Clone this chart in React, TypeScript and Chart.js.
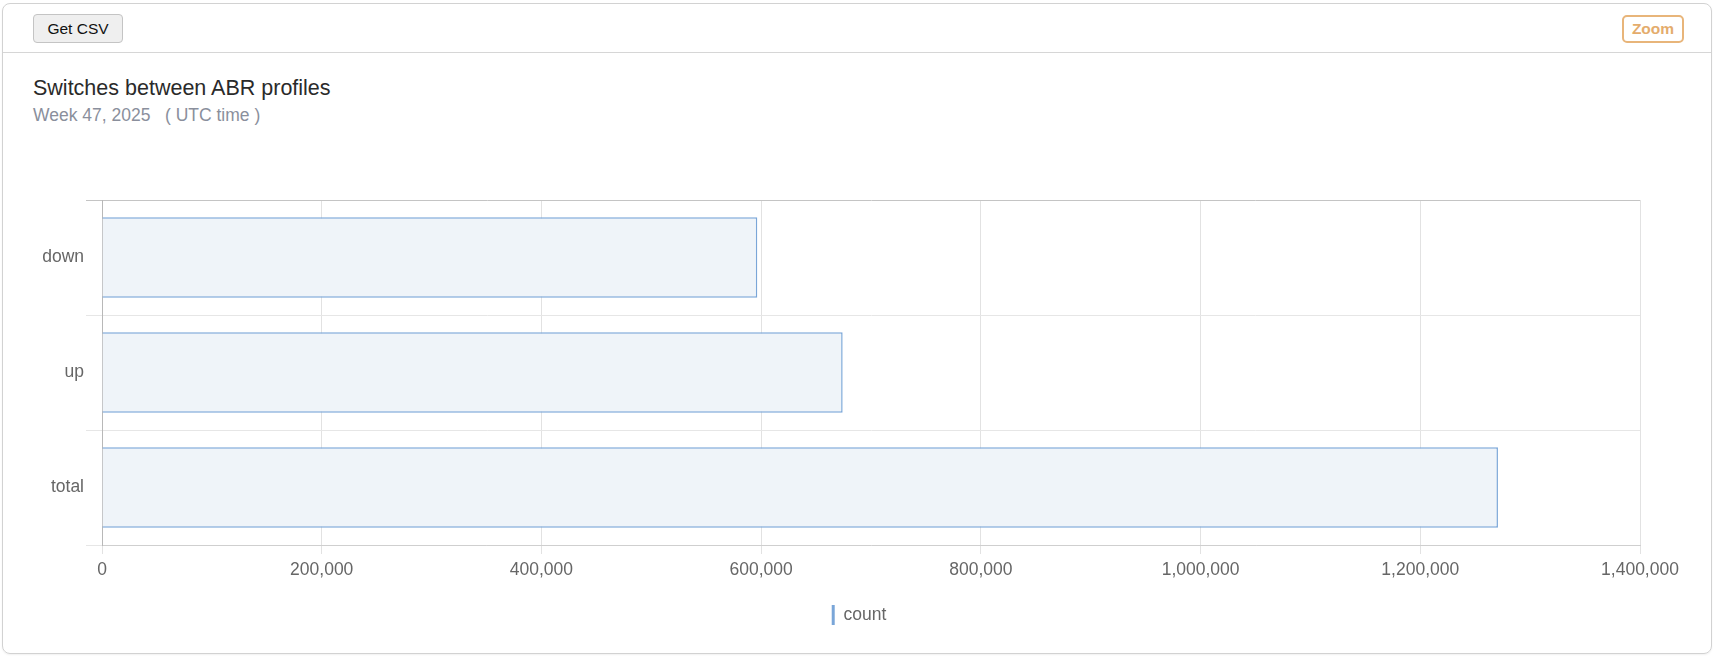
import React, { useEffect, useRef } from "react";
import { Chart, registerables } from "chart.js";

Chart.register(...registerables);

const categories = ["down", "up", "total"];
const countValues = [596500, 674200, 1270700];
const seriesLabel = "count";
const xMin = 0;
const xMax = 1400000;
const xStep = 200000;
const chartTitle = "Switches between ABR profiles";
const chartSubtitle = "Week 47, 2025";
const timeNote = "( UTC time )";

const FONT = "'Liberation Sans', Arial, Helvetica, sans-serif";
const BAR_BORDER = "rgb(122,166,216)";
const BAR_FILL = "rgb(239,244,249)";

function ChartCanvas() {
  const ref = useRef<HTMLCanvasElement | null>(null);
  useEffect(() => {
    if (!ref.current) return;
    const chart = new Chart(ref.current, {
      type: "bar",
      data: {
        labels: categories,
        datasets: [
          {
            label: seriesLabel,
            data: countValues,
            backgroundColor: BAR_FILL,
            borderColor: BAR_BORDER,
            borderWidth: 1.5,
            categoryPercentage: 0.8,
            barPercentage: 0.875,
            xAxisID: "x",
            yAxisID: "y",
          },
        ],
      },
      options: {
        animation: false,
        responsive: false,
        indexAxis: "y",
        font: { family: FONT },
        layout: { padding: { left: 32, right: 32, top: 70, bottom: 23 } },
        scales: {
          x: {
            min: xMin,
            max: xMax,
            ticks: {
              stepSize: xStep,
              color: "#666",
              font: { size: 17.5, family: FONT },
              padding: 6,
              maxRotation: 0,
              callback: (v: any) => Number(v).toLocaleString("en-US"),
            },
            grid: { color: "#e2e2e2", tickLength: 9 },
            border: { color: "#cfcfcf" },
            afterFit: (s: any) => {
              s.height = 50;
            },
          },
          y: {
            position: "left",
            ticks: {
              color: "#666",
              font: { size: 17.5, family: FONT },
              padding: 2,
            },
            grid: {
              color: (ctx: any) => (ctx.index === 0 ? "#c4c4c4" : "#e6e6e6"),
              tickLength: 16,
              offset: true,
            },
            border: { color: "#b8b8b8" },
            afterFit: (s: any) => {
              s.width = 70;
            },
          },
          yRightSpacer: {
            type: "category",
            labels: categories,
            position: "right",
            ticks: { display: false },
            grid: { display: false, drawTicks: false },
            border: { display: false },
            afterFit: (s: any) => {
              s.width = 46;
            },
          },
        },
        plugins: {
          legend: {
            position: "bottom",
            labels: {
              boxWidth: 3,
              boxHeight: 20,
              color: "#666",
              font: { size: 17.5, family: FONT },
              generateLabels: (c: any) =>
                c.data.datasets.map((ds: any, i: number) => ({
                  text: ds.label,
                  fillStyle: BAR_BORDER,
                  strokeStyle: BAR_BORDER,
                  lineWidth: 0,
                  hidden: false,
                  datasetIndex: i,
                  fontColor: "#666",
                })),
            },
          },
          tooltip: { enabled: false },
        },
      } as any,
    });
    return () => chart.destroy();
  }, []);
  return (
    <canvas
      ref={ref}
      width={1718}
      height={528}
      style={{ position: "absolute", left: 0, top: 130, width: 1718, height: 528 }}
    />
  );
}

export default function App() {
  return (
    <div
      style={{
        position: "absolute",
        left: 0,
        top: 0,
        width: 1718,
        height: 658,
        fontFamily: FONT,
        background: "#fff",
        overflow: "hidden",
      }}
    >
      <div
        style={{
          position: "absolute",
          left: 2,
          top: 3,
          width: 1710,
          height: 651,
          border: "1px solid #d2d2d2",
          borderRadius: 8,
          boxSizing: "border-box",
          boxShadow: "0 1px 2px rgba(0,0,0,0.06)",
        }}
      />
      <div style={{ position: "absolute", left: 3, top: 52, width: 1708, height: 1, background: "#d6d6d6" }} />
      <div
        style={{
          position: "absolute",
          left: 33,
          top: 14,
          width: 90,
          height: 29,
          boxSizing: "border-box",
          border: "1px solid #c4c4c4",
          borderRadius: 4,
          background: "#efefef",
          color: "#111",
          fontSize: 15.5,
          lineHeight: "27px",
          textAlign: "center",
        }}
      >
        Get CSV
      </div>
      <div
        style={{
          position: "absolute",
          left: 1622,
          top: 15,
          width: 62,
          height: 28,
          boxSizing: "border-box",
          border: "2px solid rgb(232,181,122)",
          borderRadius: 5,
          color: "rgb(228,172,108)",
          fontSize: 15.5,
          fontWeight: "bold",
          lineHeight: "24px",
          textAlign: "center",
        }}
      >
        Zoom
      </div>
      <div
        style={{
          position: "absolute",
          left: 33,
          top: 78,
          fontSize: 21.5,
          lineHeight: "21px",
          color: "#2a2a2a",
          whiteSpace: "nowrap",
        }}
      >
        {chartTitle}
      </div>
      <div
        style={{
          position: "absolute",
          left: 33,
          top: 107,
          fontSize: 17.5,
          lineHeight: "17px",
          color: "#8a8f9c",
          whiteSpace: "pre",
        }}
      >
        {chartSubtitle + "   " + timeNote}
      </div>
      <ChartCanvas />
    </div>
  );
}
